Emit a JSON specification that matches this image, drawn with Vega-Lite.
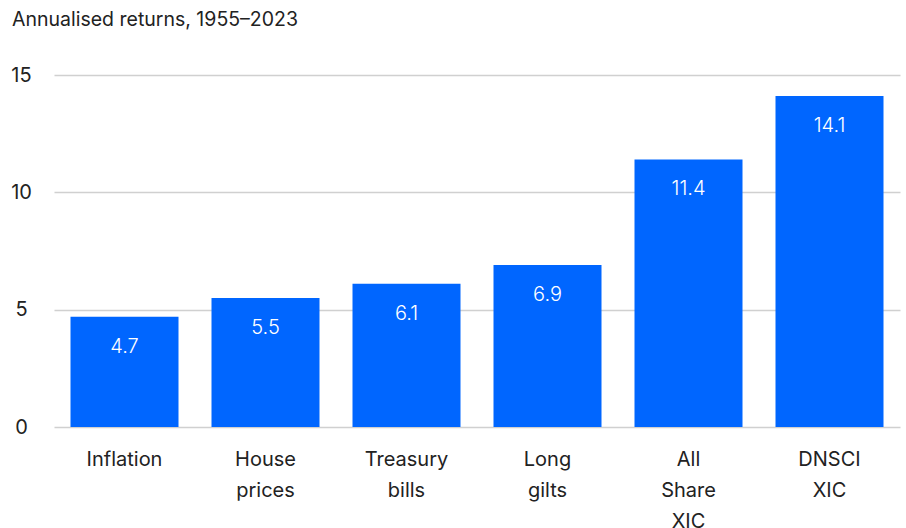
{
  "$schema": "https://vega.github.io/schema/vega-lite/v6.json",
  "width": 846,
  "height": 352,
  "autosize": "none",
  "padding": {"left": 54, "top": 75, "right": 6, "bottom": 101},
  "background": "white",
  "title": {
    "text": "Annualised returns, 1955–2023",
    "anchor": "start",
    "frame": "group",
    "dx": -42,
    "offset": 35,
    "font": "Inter",
    "fontSize": 19.5,
    "fontWeight": 400,
    "color": "#222222"
  },
  "config": {
    "view": {"stroke": null},
    "font": "Inter"
  },
  "data": {
    "values": [
      {"asset": "Inflation", "value": 4.7},
      {"asset": "House prices", "value": 5.5},
      {"asset": "Treasury bills", "value": 6.1},
      {"asset": "Long gilts", "value": 6.9},
      {"asset": "All Share XIC", "value": 11.4},
      {"asset": "DNSCI XIC", "value": 14.1}
    ]
  },
  "encoding": {
    "x": {
      "field": "asset",
      "type": "nominal",
      "sort": null,
      "scale": {"paddingInner": 0.234, "paddingOuter": 0.117},
      "axis": {
        "title": null,
        "labelAngle": 0,
        "labelExpr": "split(datum.label, ' ')",
        "labelFont": "Inter",
        "labelFontSize": 20,
        "labelColor": "#222222",
        "labelPadding": 22,
        "labelLineHeight": 31,
        "ticks": false,
        "domain": false
      }
    },
    "y": {
      "field": "value",
      "type": "quantitative",
      "scale": {"domain": [0, 15]},
      "axis": {
        "title": null,
        "values": [0, 5, 10, 15],
        "labelFont": "Inter",
        "labelFontSize": 20,
        "labelColor": "#222222",
        "labelAlign": "center",
        "labelPadding": 33,
        "ticks": false,
        "domain": false,
        "gridColor": "#d0d0d0",
        "gridWidth": 1.5
      }
    }
  },
  "layer": [
    {"mark": {"type": "bar", "color": "#0066ff"}},
    {
      "mark": {
        "type": "text",
        "baseline": "top",
        "dy": 20,
        "color": "white",
        "font": "Inter",
        "fontSize": 20,
        "fontWeight": 300
      },
      "encoding": {"text": {"field": "value", "type": "quantitative", "format": ".1f"}}
    }
  ]
}
